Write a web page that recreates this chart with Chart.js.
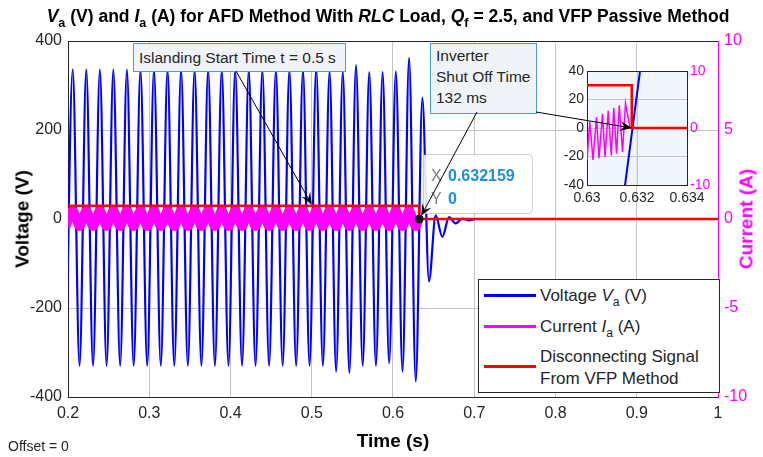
<!DOCTYPE html>
<html>
<head>
<meta charset="utf-8">
<script src="https://cdn.jsdelivr.net/npm/chart.js@4.4.1/dist/chart.umd.min.js"></script>
<style>
  body { margin: 0; background: #fff; }
  #wrap { position: relative; width: 763px; height: 457px; overflow: hidden; font-family: 'Liberation Sans', Arial, sans-serif; color: #262626; }
  canvas { position: absolute; }
  .txt { position: absolute; white-space: nowrap; line-height: 1; }
  .sub { font-size: 0.72em; position: relative; top: 0.38em; }
  .note { position: absolute; background: #f0f4f8; border: 1px solid #4a9fd0; font-size: 15.5px; line-height: 21px; padding: 0 5px; color: #262626; }
  #tip { position: absolute; left: 423px; top: 154px; width: 108px; height: 58px; border: 1px solid #cfcfcf; border-radius: 4px; background: rgba(255,255,255,0.88); }
  #legend { position: absolute; left: 478px; top: 279px; width: 240px; height: 112px; border: 1px solid #262626; background: #fff; font-size: 17px; }
  .lg-line { position: absolute; left: 5px; width: 52px; height: 3px; }
</style>
</head>
<body>
<div id="wrap">
  <canvas id="main" width="763" height="457" style="left:0;top:0"></canvas>
  <canvas id="inset" width="185" height="160" style="left:530px;top:55px"></canvas>

  <div class="txt" id="title" style="left:388px;top:8px;transform:translateX(-50%);font-size:17.5px;font-weight:bold;color:#000">
    <i>V</i><span class="sub">a</span> (V) and <i>I</i><span class="sub">a</span> (A) for AFD Method With <i>RLC</i> Load, <i>Q</i><span class="sub">f</span> = 2.5, and VFP Passive Method
  </div>
  <div class="txt" style="left:22px;top:219px;transform:translate(-50%,-50%) rotate(-90deg);font-size:19px;font-weight:bold;color:#000">Voltage (V)</div>
  <div class="txt" style="left:746px;top:219px;transform:translate(-50%,-50%) rotate(-90deg);font-size:19px;font-weight:bold;color:#ff00ff">Current (A)</div>
  <div class="txt" style="left:393px;top:431px;transform:translateX(-50%);font-size:19px;font-weight:bold;color:#000">Time (s)</div>
  <div class="txt" style="left:8px;top:439px;font-size:14px">Offset = 0</div>

  <div id="tip">
    <div class="txt" style="left:7px;top:13px;font-size:16px;color:#808080">X</div>
    <div class="txt" style="left:24px;top:13px;font-size:16px;font-weight:bold;color:#1a8fe3">0.632159</div>
    <div class="txt" style="left:7px;top:36px;font-size:16px;color:#808080">Y</div>
    <div class="txt" style="left:24px;top:36px;font-size:16px;font-weight:bold;color:#1a8fe3">0</div>
  </div>

  <div class="note" style="left:133px;top:43px;height:27px;line-height:27px;width:201px">Islanding Start Time t = 0.5 s</div>
  <div class="note" style="left:430px;top:43px;width:95px;height:68px;padding-top:1px">Inverter<br>Shut Off Time<br>132 ms</div>

  <div id="legend">
    <div class="lg-line" style="top:14px;background:#0000ff"></div>
    <div class="txt" style="left:61px;top:7px">Voltage <i>V</i><span class="sub">a</span> (V)</div>
    <div class="lg-line" style="top:45px;background:#ff00ff"></div>
    <div class="txt" style="left:61px;top:38px">Current <i>I</i><span class="sub">a</span> (A)</div>
    <div class="lg-line" style="top:85px;background:#ff0000"></div>
    <div class="txt" style="left:61px;top:68px">Disconnecting Signal</div>
    <div class="txt" style="left:61px;top:90px">From VFP Method</div>
  </div>

  <canvas id="arrows" width="763" height="457" style="left:0;top:0;pointer-events:none"></canvas>
</div>

<script>
// Voltage Va: extreme points (peaks / troughs)
const voltTime = [0.1975,0.2058,0.2142,0.2225,0.2308,0.2392,0.2475,0.2558,0.2642,0.2725,
  0.2808,0.2892,0.2975,0.3058,0.3142,0.3225,0.3308,0.3392,0.3475,0.3558,
  0.3642,0.3725,0.3808,0.3892,0.3975,0.4058,0.4142,0.4225,0.4308,0.4392,
  0.4475,0.4558,0.4642,0.4725,0.4808,0.4892,0.4973,0.5055,0.5137,0.5219,
  0.5300,0.5382,0.5463,0.5545,0.5627,0.5708,0.5790,0.5872,0.5953,0.6035,
  0.6117,0.6198,0.6280,0.6361,0.6443,0.6525,0.6607,0.6690,0.6772,0.6855,
  0.6937,0.7020,1.0];
const voltValue = [-330,336,-330,336,-330,336,-330,336,-330,336,
  -330,336,-330,336,-330,336,-330,336,-330,336,
  -330,336,-330,336,-330,336,-330,336,-330,336,
  -330,336,-330,336,-330,336,-330,340,-330,332,
  -343,332,-346,346,-330,330,-330,330,-324,332,
  -343,362,-365,272,-140,8,-40,4,-10,1,
  -3,0,0];

// Current Ia (A), right axis
const currTime = [0.1975,0.2058,0.2142,0.2225,0.2308,0.2392,0.2475,0.2558,0.2642,0.2725,
  0.2808,0.2892,0.2975,0.3058,0.3142,0.3225,0.3308,0.3392,0.3475,0.3558,
  0.3642,0.3725,0.3808,0.3892,0.3975,0.4058,0.4142,0.4225,0.4308,0.4392,
  0.4475,0.4558,0.4642,0.4725,0.4808,0.4892,0.4973,0.5055,0.5137,0.5219,
  0.5300,0.5382,0.5463,0.5545,0.5627,0.5708,0.5790,0.5872,0.5953,0.6035,
  0.6117,0.6198,0.6280,0.6318];
const currValue = [-0.42,0.48,-0.42,0.48,-0.42,0.48,-0.42,0.48,-0.42,0.48,
  -0.42,0.48,-0.42,0.48,-0.42,0.48,-0.42,0.48,-0.42,0.48,
  -0.42,0.48,-0.42,0.48,-0.42,0.48,-0.42,0.48,-0.42,0.48,
  -0.42,0.48,-0.42,0.48,-0.42,0.48,-0.42,0.48,-0.42,0.48,
  -0.42,0.48,-0.42,0.48,-0.42,0.48,-0.42,0.48,-0.42,0.48,
  -0.42,0.48,-0.42,0];

// Disconnecting signal from VFP method
const sigTime = [0.2, 0.632159, 0.632159, 1.0];
const sigValue = [30, 30, 0, 0];

// Data tip
const tipTime = [0.632159];
const tipValue = [0];

// Annotation targets
const islandTime = 0.5;

// Inset (zoom around shut-off)
const insVoltTime = [0.6312, 0.6326];
const insVoltValue = [-83, 104];
const insCurrTime = [0.63000,0.63011,0.63024,0.63038,0.63048,0.63062,0.63072,0.63085,
  0.63097,0.63107,0.63118,0.63129,0.63142,0.63154,0.63172,0.6333];
const insCurrValue = [-5.6,1.1,-5.6,1.9,-5.3,2.5,-5.1,3.0,-4.8,3.5,-4.5,4.0,-4.2,4.3,0,0];
const insSigTime = [0.63, 0.63179, 0.63179, 0.634];
const insSigValue = [30, 30, 0, 0];

const xTicks = [0.2, 0.3, 0.4, 0.5, 0.6, 0.7, 0.8, 0.9, 1];

const pts = (xs, ys) => xs.map((x, i) => ({ x: x, y: ys[i] }));
const FONT = "'Liberation Sans', Arial, sans-serif";
const GRID = '#c4c4c4';
const INK = '#262626';

const boxPlugin = {
  id: 'box',
  beforeDraw(chart) {
    const a = chart.chartArea, c = chart.ctx;
    c.save();
    c.fillStyle = chart.options.plugins.box.fill;
    c.fillRect(a.left, a.top, a.right - a.left, a.bottom - a.top);
    c.restore();
  },
  afterDraw(chart) {
    const a = chart.chartArea, c = chart.ctx;
    c.save();
    c.strokeStyle = INK;
    c.lineWidth = 1;
    c.beginPath();
    c.moveTo(a.left, a.top + 0.5);
    c.lineTo(a.right, a.top + 0.5);
    c.stroke();
    c.restore();
  }
};

const mainChart = new Chart(document.getElementById('main'), {
  type: 'line',
  data: {
    datasets: [
      { label: 'tip', type: 'scatter', data: pts(tipTime, tipValue), yAxisID: 'y',
        pointRadius: 4, pointBackgroundColor: '#111', pointBorderColor: '#111', order: 0 },
      { label: 'signal', data: pts(sigTime, sigValue), yAxisID: 'y', borderColor: '#ff0000',
        borderWidth: 2.5, pointRadius: 0, tension: 0, order: 1 },
      { label: 'current', data: pts(currTime, currValue), yAxisID: 'y2', borderColor: '#ff00ff',
        borderWidth: 9, pointRadius: 0, cubicInterpolationMode: 'monotone', order: 2 },
      { label: 'voltage', data: pts(voltTime, voltValue), yAxisID: 'y', borderColor: '#0000ff',
        borderWidth: 2.2, pointRadius: 0, cubicInterpolationMode: 'monotone', order: 3 }
    ]
  },
  options: {
    responsive: false,
    animation: false,
    events: [],
    layout: { padding: { top: 41, left: 0, right: 0, bottom: 0 } },
    plugins: { legend: { display: false }, tooltip: { enabled: false }, box: { fill: '#ffffff' } },
    scales: {
      x: {
        type: 'linear', min: 0.2, max: 1,
        afterBuildTicks: s => { s.ticks = xTicks.map(v => ({ value: v })); },
        afterFit: s => { s.height = 60; },
        ticks: { color: INK, font: { family: FONT, size: 16 }, padding: 7,
          callback: v => String(Number(v.toFixed(1))) },
        grid: { color: GRID, drawTicks: false },
        border: { color: INK }
      },
      y: {
        position: 'left', min: -400, max: 400,
        afterFit: s => { s.width = 68; },
        ticks: { stepSize: 200, color: INK, font: { family: FONT, size: 16 }, padding: 6 },
        grid: { color: GRID, drawTicks: false },
        border: { color: INK }
      },
      y2: {
        position: 'right', min: -10, max: 10,
        afterFit: s => { s.width = 45; },
        ticks: { stepSize: 5, color: '#ff00ff', font: { family: FONT, size: 16 }, padding: 6 },
        grid: { drawOnChartArea: false, drawTicks: false },
        border: { color: '#ff00ff' }
      }
    }
  },
  plugins: [boxPlugin]
});

const insetChart = new Chart(document.getElementById('inset'), {
  type: 'line',
  data: {
    datasets: [
      { label: 'signal', data: pts(insSigTime, insSigValue), yAxisID: 'y', borderColor: '#ff0000',
        borderWidth: 2.5, pointRadius: 0, tension: 0, order: 0 },
      { label: 'voltage', data: pts(insVoltTime, insVoltValue), yAxisID: 'y', borderColor: '#0000ff',
        borderWidth: 2, pointRadius: 0, tension: 0, order: 1 },
      { label: 'current', data: pts(insCurrTime, insCurrValue), yAxisID: 'y2', borderColor: '#ff00ff',
        borderWidth: 1.5, pointRadius: 0, tension: 0, order: 2 }
    ]
  },
  options: {
    responsive: false,
    animation: false,
    events: [],
    layout: { padding: { top: 16, left: 0, right: 0, bottom: 0 } },
    plugins: { legend: { display: false }, tooltip: { enabled: false }, box: { fill: 'rgba(236,242,251,0.75)' } },
    scales: {
      x: {
        type: 'linear', min: 0.63, max: 0.634,
        afterFit: s => { s.height = 30; },
        ticks: { stepSize: 0.002, color: INK, font: { family: FONT, size: 14 }, padding: 5,
          callback: v => String(Number(v.toFixed(3))) },
        grid: { color: GRID, drawTicks: false },
        border: { color: INK }
      },
      y: {
        position: 'left', min: -40, max: 40,
        afterFit: s => { s.width = 57; },
        ticks: { stepSize: 20, color: INK, font: { family: FONT, size: 14 }, padding: 3 },
        grid: { color: GRID, drawTicks: false },
        border: { color: INK }
      },
      y2: {
        position: 'right', min: -10, max: 10,
        afterFit: s => { s.width = 28; },
        ticks: { stepSize: 10, color: '#ff00ff', font: { family: FONT, size: 14 }, padding: 3 },
        grid: { drawOnChartArea: false, drawTicks: false },
        border: { color: INK }
      }
    }
  },
  plugins: [boxPlugin]
});

// Annotation arrows (start at text boxes, end on data points)
function arrow(ctx, x1, y1, x2, y2) {
  const ang = Math.atan2(y2 - y1, x2 - x1);
  const len = 12, half = 5;
  const bx = x2 - len * Math.cos(ang), by = y2 - len * Math.sin(ang);
  const nx = x2 - 0.6 * len * Math.cos(ang), ny = y2 - 0.6 * len * Math.sin(ang);
  ctx.strokeStyle = '#000';
  ctx.lineWidth = 1;
  ctx.beginPath();
  ctx.moveTo(x1, y1);
  ctx.lineTo(nx, ny);
  ctx.stroke();
  ctx.fillStyle = '#000';
  ctx.beginPath();
  ctx.moveTo(x2, y2);
  ctx.lineTo(bx - half * Math.sin(ang), by + half * Math.cos(ang));
  ctx.lineTo(nx, ny);
  ctx.lineTo(bx + half * Math.sin(ang), by - half * Math.cos(ang));
  ctx.closePath();
  ctx.fill();
}

const actx = document.getElementById('arrows').getContext('2d');
const ms = mainChart.scales, is = insetChart.scales;
arrow(actx, 236, 71, ms.x.getPixelForValue(islandTime), ms.y.getPixelForValue(sigValue[0]) - 1);
arrow(actx, 477, 112, ms.x.getPixelForValue(tipTime[0]) + 2, ms.y.getPixelForValue(tipValue[0]) - 3);
arrow(actx, 536, 112, 530 + is.x.getPixelForValue(insSigTime[1]), 55 + is.y.getPixelForValue(0));
</script>
</body>
</html>
